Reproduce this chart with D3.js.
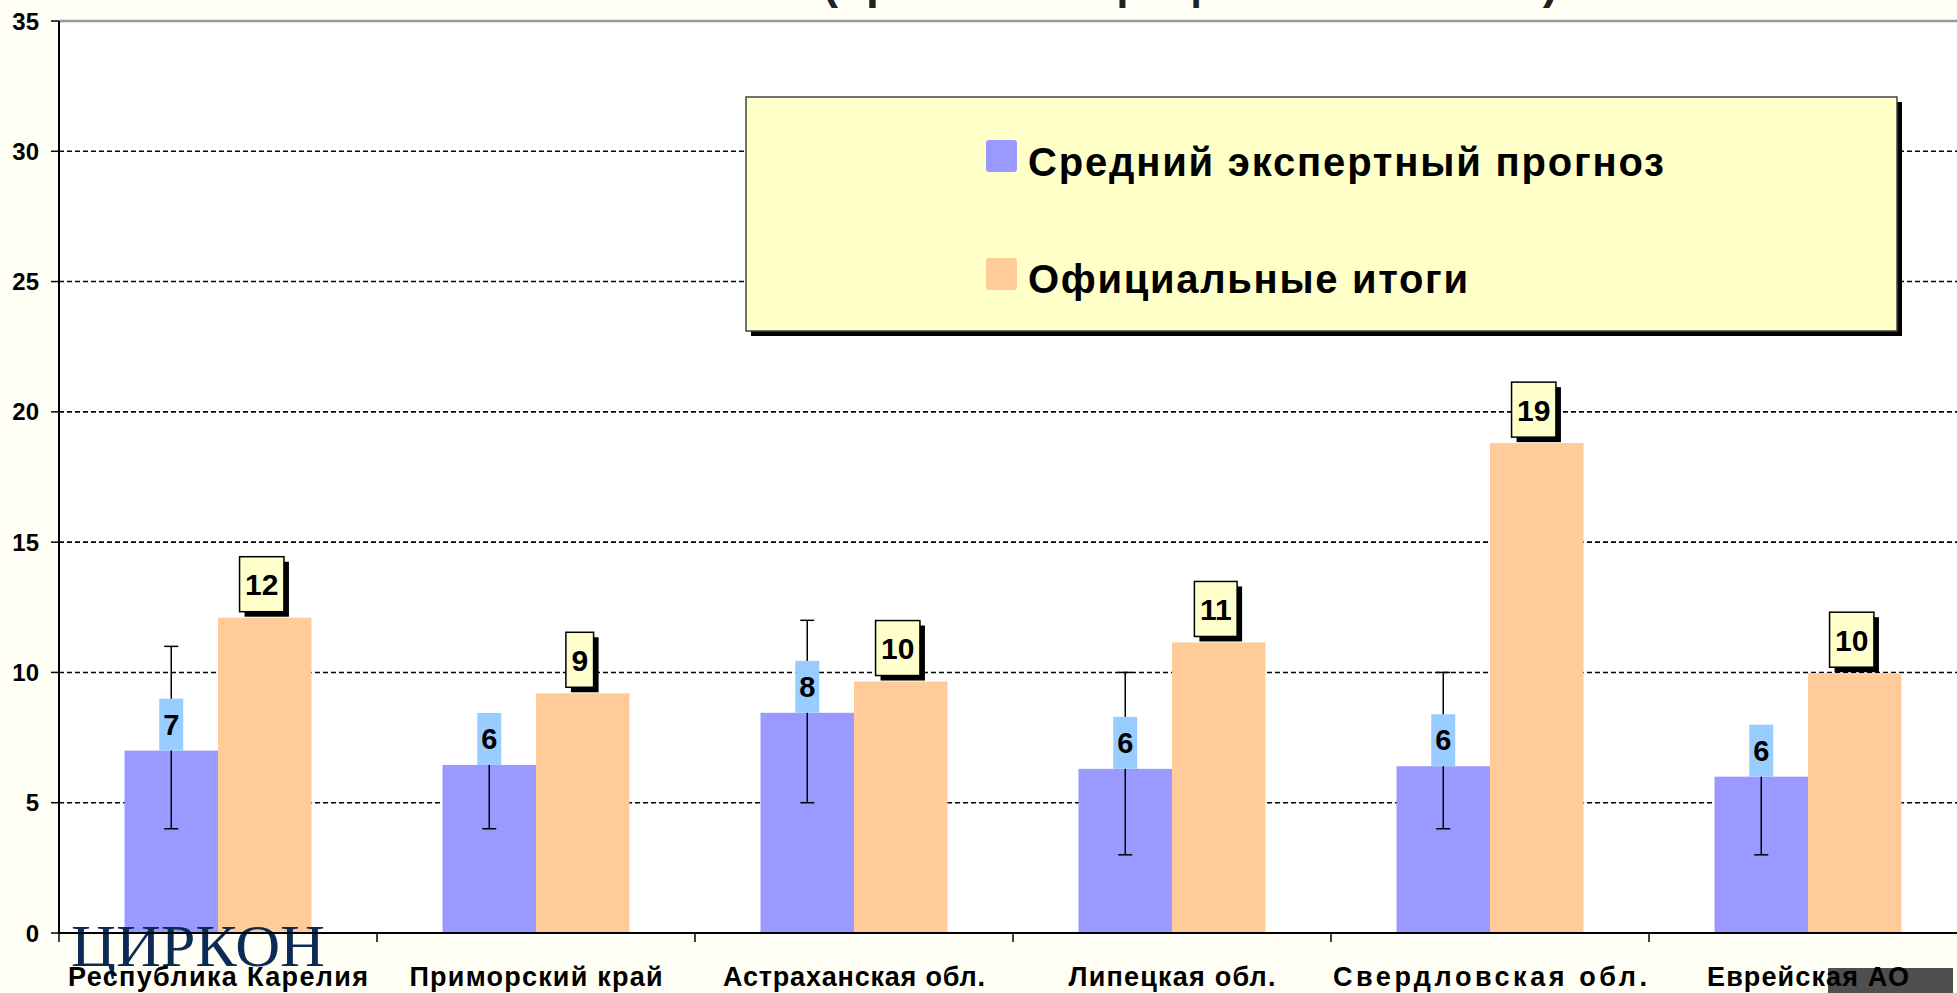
<!DOCTYPE html>
<html>
<head>
<meta charset="utf-8">
<script src="https://cdn.jsdelivr.net/npm/d3@7.9.0/dist/d3.min.js"></script>
<style>
  html, body { margin: 0; padding: 0; background: #fffff5; overflow: hidden; }
  svg { display: block; font-family: "Liberation Sans", Arial, sans-serif; }
</style>
</head>
<body>
<svg id="chart" width="1957" height="993"></svg>
<script>
// data
const regions = ['Республика Карелия', 'Приморский край', 'Астраханская обл.', 'Липецкая обл.', 'Свердловская обл.', 'Еврейская АО'];
const regionLabelWidths = [300, 253, 262, 207, 314, 202];
const forecast = [7.0, 6.45, 8.45, 6.3, 6.4, 6.0];
const official = [12.1, 9.2, 9.65, 11.15, 18.8, 9.97];
const errLow = [4, 4, 5, 3, 4, 3];
const errHigh = [11, 8, 12, 10, 10, 7.5];
const seriesNames = ['Средний экспертный прогноз', 'Официальные итоги'];
const yTicks = [0, 5, 10, 15, 20, 25, 30, 35];
const colors = ['#9999ff', '#ffcc99'];

const svg = d3.select('#chart');
const W = 1957;

let x0 = d3.scaleBand()
    .domain(regions)
    .range([59, 1967])
    .paddingInner(0.412)
    .paddingOuter(0.206);

let x1 = d3.scaleBand()
    .domain([0, 1])
    .range([0, x0.bandwidth()]);

let y = d3.scaleLinear().domain([0, 35]).range([933, 21]);

// cut-off title at the very top (only the descenders show)
svg.append('text')
    .attr('x', 426).attr('y', -2)
    .attr('textLength', 1132)
    .attr('lengthAdjust', 'spacing')
    .attr('font-size', 46).attr('font-weight', 'bold')
    .attr('fill', '#222')
    .text('Показатель явки (прогноз и официальные итоги)');

// plot area
svg.append('rect')
    .attr('x', 59).attr('y', y(35))
    .attr('width', W - 59).attr('height', y(0) - y(35))
    .attr('fill', '#ffffff');

// gridlines
svg.selectAll('.grid')
    .data(yTicks.filter(d => d > 0 && d < 35))
    .enter()
    .append('line')
    .attr('x1', 59).attr('x2', W)
    .attr('y1', d => y(d)).attr('y2', d => y(d))
    .attr('stroke', '#000').attr('stroke-width', 1.6)
    .attr('stroke-dasharray', '5,3');

svg.append('line')
    .attr('x1', 59).attr('x2', W)
    .attr('y1', y(35)).attr('y2', y(35))
    .attr('stroke', '#999').attr('stroke-width', 2.5);

// legend box
const lg = svg.append('g');
lg.append('rect')
    .attr('x', 751).attr('y', 102).attr('width', 1151).attr('height', 234)
    .attr('fill', '#000');
lg.append('rect')
    .attr('x', 746).attr('y', 97).attr('width', 1151).attr('height', 234)
    .attr('fill', '#ffffc8').attr('stroke', '#444').attr('stroke-width', 1.5);

const legendY = [140, 258];
const legendBase = [176, 293];
const legendLen = [636, 440];
seriesNames.forEach((name, i) => {
    lg.append('rect')
        .attr('x', 986).attr('y', legendY[i])
        .attr('width', 31).attr('height', 32)
        .attr('rx', 3)
        .attr('fill', colors[i]);
    lg.append('text')
        .attr('x', 1028).attr('y', legendBase[i])
        .attr('font-size', 40).attr('font-weight', 'bold')
        .attr('textLength', legendLen[i])
        .attr('lengthAdjust', 'spacing')
        .text(name);
});

// bars
const groups = svg.selectAll('.grp')
    .data(regions)
    .enter()
    .append('g')
    .attr('transform', d => `translate(${x0(d)},0)`);

groups.append('rect')
    .attr('x', x1(0)).attr('width', x1.bandwidth())
    .attr('y', (d, i) => y(forecast[i]))
    .attr('height', (d, i) => y(0) - y(forecast[i]))
    .attr('fill', colors[0]);

groups.append('rect')
    .attr('x', x1(1)).attr('width', x1.bandwidth())
    .attr('y', (d, i) => y(official[i]))
    .attr('height', (d, i) => y(0) - y(official[i]))
    .attr('fill', colors[1]);

// error bars on the forecast
const ex = x1(0) + x1.bandwidth() / 2;
groups.append('line')
    .attr('x1', ex).attr('x2', ex)
    .attr('y1', (d, i) => y(errLow[i])).attr('y2', (d, i) => y(errHigh[i]))
    .attr('stroke', '#000').attr('stroke-width', 1.5);
[errLow, errHigh].forEach(arr => {
    groups.append('line')
        .attr('x1', ex - 7).attr('x2', ex + 7)
        .attr('y1', (d, i) => y(arr[i])).attr('y2', (d, i) => y(arr[i]))
        .attr('stroke', '#000').attr('stroke-width', 1.5);
});

const fmt = d3.format('.0f');

// forecast labels (blue boxes)
groups.each(function (d, i) {
    const g = d3.select(this);
    const top = y(forecast[i]);
    g.append('rect')
        .attr('x', ex - 12).attr('y', top - 52)
        .attr('width', 24).attr('height', 52)
        .attr('fill', '#99ccff');
    g.append('text')
        .attr('x', ex).attr('y', top - 26)
        .attr('text-anchor', 'middle').attr('dominant-baseline', 'central')
        .attr('font-size', 29).attr('font-weight', 'bold')
        .text(fmt(forecast[i]));
});

// official labels (yellow boxes with shadow)
groups.each(function (d, i) {
    const g = d3.select(this);
    const cx = x1(1) + x1.bandwidth() / 2 - 3;
    const top = y(official[i]);
    const t = g.append('text')
        .attr('x', cx).attr('y', top - 6 - 27)
        .attr('text-anchor', 'middle').attr('dominant-baseline', 'central')
        .attr('font-size', 30).attr('font-weight', 'bold')
        .text(fmt(official[i]));
    const w = t.node().getComputedTextLength() + 11;
    g.insert('rect', 'text:last-child')
        .attr('x', cx - w / 2 + 5).attr('y', top - 6 - 55 + 5)
        .attr('width', w).attr('height', 55)
        .attr('fill', '#000');
    g.insert('rect', 'text:last-child')
        .attr('x', cx - w / 2).attr('y', top - 6 - 55)
        .attr('width', w).attr('height', 55)
        .attr('fill', '#ffffcc').attr('stroke', '#000').attr('stroke-width', 1.5);
});

// y axis
svg.append('line')
    .attr('x1', 59).attr('x2', 59).attr('y1', y(35)).attr('y2', y(0))
    .attr('stroke', '#000').attr('stroke-width', 2);
svg.selectAll('.ytick')
    .data(yTicks)
    .enter()
    .append('line')
    .attr('x1', 51).attr('x2', 59)
    .attr('y1', d => y(d)).attr('y2', d => y(d))
    .attr('stroke', '#000').attr('stroke-width', 1.5);
svg.selectAll('.ylab')
    .data(yTicks)
    .enter()
    .append('text')
    .attr('x', 39).attr('y', d => y(d))
    .attr('text-anchor', 'end').attr('dominant-baseline', 'central')
    .attr('font-size', 24).attr('font-weight', 'bold')
    .text(d => d);

// logo under the axis
svg.append('text')
    .attr('x', 71).attr('y', 966)
    .attr('font-family', '"Liberation Serif", "Times New Roman", serif')
    .attr('font-size', 60)
    .attr('fill', '#0b2a55')
    .attr('textLength', 254)
    .attr('lengthAdjust', 'spacingAndGlyphs')
    .text('ЦИРКОН');

// x axis
svg.append('line')
    .attr('x1', 59).attr('x2', W).attr('y1', y(0)).attr('y2', y(0))
    .attr('stroke', '#000').attr('stroke-width', 2);
svg.selectAll('.xtick')
    .data(d3.range(regions.length + 1))
    .enter()
    .append('line')
    .attr('x1', i => 59 + i * x0.step()).attr('x2', i => 59 + i * x0.step())
    .attr('y1', y(0)).attr('y2', y(0) + 9)
    .attr('stroke', '#000').attr('stroke-width', 1.5);

// dark overlay box bottom right (screen artifact)
svg.append('rect')
    .attr('x', 1828).attr('y', 968).attr('width', 125).attr('height', 25)
    .attr('fill', '#4f4f4f');

svg.selectAll('.xlab')
    .data(regions)
    .enter()
    .append('text')
    .attr('x', d => x0(d) + x0.bandwidth() / 2)
    .attr('y', 986)
    .attr('text-anchor', 'middle')
    .attr('font-size', 27).attr('font-weight', 'bold')
    .attr('textLength', (d, i) => regionLabelWidths[i])
    .attr('lengthAdjust', 'spacing')
    .text(d => d);
</script>
</body>
</html>
